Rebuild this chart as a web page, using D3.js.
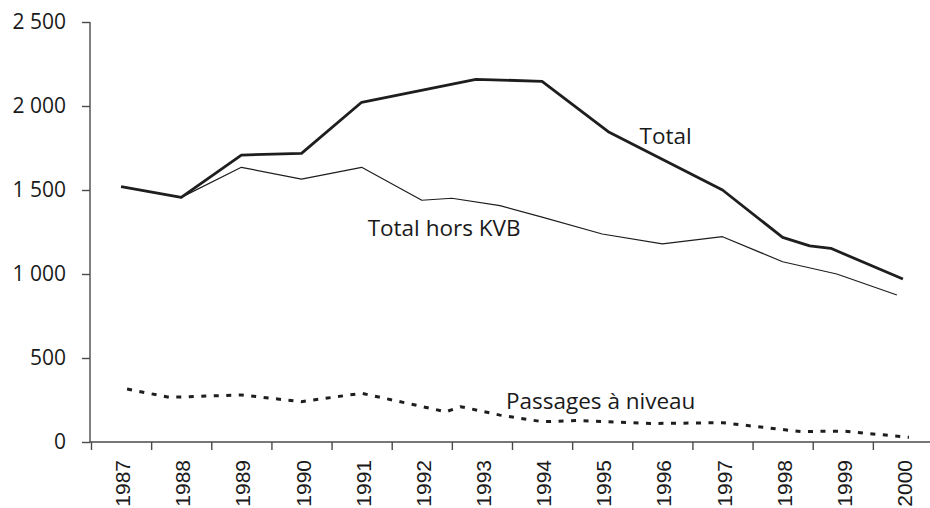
<!DOCTYPE html>
<html>
<head>
<meta charset="utf-8">
<script src="https://cdn.jsdelivr.net/npm/d3@7/dist/d3.min.js"></script>
<style>
  html, body { margin: 0; padding: 0; background: #fff; }
  svg { display: block; }
</style>
</head>
<body>
<svg id="chart" width="930" height="508"></svg>
<script>
// ---- Data ----
const years = [1987, 1988, 1989, 1990, 1991, 1992, 1993, 1994, 1995, 1996, 1997, 1998, 1999, 2000];
const yTicks = [0, 500, 1000, 1500, 2000, 2500];

// Total
const totalX = [1987, 1988, 1989, 1990, 1991, 1992.9, 1994, 1995.1, 1997, 1998, 1998.45, 1998.8, 2000];
const totalY = [1520, 1456, 1708, 1718, 2022, 2159, 2147, 1847, 1500, 1218, 1167, 1153, 970];

// Total hors KVB
const horsX = [1987, 1988, 1989, 1990, 1991, 1992, 1992.5, 1993.3, 1994, 1995, 1996, 1997, 1998, 1998.9, 1999.9];
const horsY = [1520, 1456, 1635, 1565, 1635, 1439, 1451, 1407, 1339, 1238, 1179, 1222, 1073, 1000, 875];

// Passages à niveau
const pnX = [1987.1, 1987.8, 1989, 1990, 1991, 1992.4, 1992.65, 1993.3, 1994, 1994.6, 1995.8, 1997, 1998.3, 1999, 2000.1];
const pnY = [315, 266, 280, 240, 290, 180, 210, 160, 121, 128, 110, 115, 62, 65, 28];

const seriesLabels = ["Total", "Total hors KVB", "Passages à niveau"];

// ---- Layout ----
const svg = d3.select("#chart");
const mLeft = 91, mRight = 933, mTop = 22, mBottom = 442;

const x = d3.scaleLinear().domain([years[0] - 0.5, years[years.length - 1] + 0.5]).range([mLeft, mRight]);
const y = d3.scaleLinear().domain([0, 2500]).range([mBottom, mTop]);

const locale = d3.formatLocale({ decimal: ",", thousands: "\u00a0", grouping: [3], currency: ["", " €"] });
const fmt = locale.format(",d");

const axisColor = "#4a4a4a";
const lineColor = "#1e1e1e";

// Y axis
const yAxis = svg.append("g")
  .attr("transform", `translate(${mLeft - 1},0)`)
  .call(d3.axisLeft(y).tickValues(yTicks).tickSize(8).tickPadding(16).tickFormat(fmt));
yAxis.select(".domain").attr("stroke", axisColor).attr("stroke-width", 1.4).attr("d", `M0,${mTop}V${mBottom}`);
yAxis.selectAll(".tick line").attr("stroke", axisColor).attr("stroke-width", 1.4);
yAxis.selectAll(".tick text")
  .attr("fill", "#1a1a1a")
  .style("font-family", "'Open Sans', 'Noto Sans', sans-serif")
  .style("font-size", "21px");

// X axis (ticks at band boundaries)
const boundaries = d3.range(years.length).map(i => years[i] - 0.5);
const xAxis = svg.append("g")
  .attr("transform", `translate(0,${mBottom})`)
  .call(d3.axisBottom(x).tickValues(boundaries).tickSize(8).tickFormat(""));
xAxis.select(".domain").attr("stroke", axisColor).attr("stroke-width", 1.4).attr("d", `M${mLeft - 1},0H${mRight}`);
xAxis.selectAll(".tick line").attr("stroke", axisColor).attr("stroke-width", 1.4);

// Year labels, rotated
svg.append("g").selectAll("text")
  .data(years)
  .join("text")
  .attr("transform", d => `translate(${x(d) + 1.5},${mBottom + 18}) rotate(-90)`)
  .attr("text-anchor", "end")
  .attr("dy", "0.36em")
  .attr("fill", "#1a1a1a")
  .style("font-family", "'Liberation Sans', Arial, sans-serif")
  .style("font-size", "21px")
  .text(d => d);

// Lines
const line = d3.line().x(d => x(d[0])).y(d => y(d[1]));

svg.append("path")
  .datum(d3.zip(horsX, horsY))
  .attr("fill", "none")
  .attr("stroke", lineColor)
  .attr("stroke-width", 1.2)
  .attr("stroke-linejoin", "round")
  .attr("d", line);

svg.append("path")
  .datum(d3.zip(totalX, totalY))
  .attr("fill", "none")
  .attr("stroke", lineColor)
  .attr("stroke-width", 2.8)
  .attr("stroke-linejoin", "round")
  .attr("d", line);

svg.append("path")
  .datum(d3.zip(pnX, pnY))
  .attr("fill", "none")
  .attr("stroke", lineColor)
  .attr("stroke-width", 3)
  .attr("stroke-dasharray", "5,7.5")
  .attr("d", line);

// Series labels
const labelStyle = sel => sel
  .attr("fill", "#1a1a1a")
  .style("font-family", "'Open Sans', 'Noto Sans', sans-serif")
  .style("font-size", "22.5px");

svg.append("text").attr("x", x(1995.62)).attr("y", y(1775)).call(labelStyle).text(seriesLabels[0]);
svg.append("text").attr("x", x(1991.1)).attr("y", y(1225)).call(labelStyle).text(seriesLabels[1]);
svg.append("text").attr("x", x(1993.4)).attr("y", y(195)).call(labelStyle).text(seriesLabels[2]);
</script>
</body>
</html>
